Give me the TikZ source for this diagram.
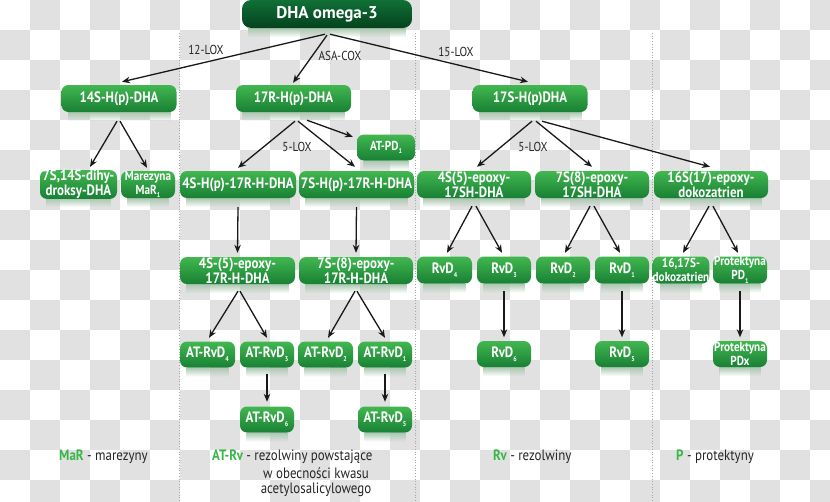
\documentclass[tikz,border=0pt]{standalone}
\usepackage{fontspec}
\setmainfont{PT Sans}
\newfontfamily\narrowfont{PT Sans}[FakeStretch=0.86]
\newfontfamily\boxfont{PT Sans}[FakeStretch=0.86]
\usetikzlibrary{arrows.meta,calc,fadings}
\definecolor{gtop}{RGB}{66,183,80}
\definecolor{gbot}{RGB}{24,128,52}
\definecolor{dtop}{RGB}{16,112,54}
\definecolor{dbot}{RGB}{5,66,30}
\definecolor{refl}{RGB}{170,200,176}
\definecolor{chk}{RGB}{225,225,225}
\definecolor{lgreen}{RGB}{57,181,74}
\newcommand\lowsub[1]{\raisebox{-0.5ex}{\fontsize{7}{7}\selectfont #1}}
\newcommand\gbox[6][]{%
  \fill[refl,path fading=south] ($(#3)+(-#4/2+6,#5/2)$) rectangle ($(#3)+(#4/2-6,#5/2+9)$);
  \node[gnode,minimum width=#4pt,minimum height=#5pt,#1] (#2) at (#3) {#6};}
\tikzset{
  gnode/.style={rectangle,rounded corners=7pt,draw=none,top color=gtop,bottom color=gbot,
    text=white,align=center,inner sep=0pt,font=\fontsize{15}{15}\selectfont\boxfont\bfseries},
  small/.style={font=\fontsize{13}{14}\selectfont\boxfont\bfseries},
  dark/.style={top color=dtop,bottom color=dbot,rounded corners=9pt,font=\fontsize{17}{18}\selectfont\rmfamily\bfseries},
  arr/.style={-{Stealth[length=8pt,width=6.5pt]},line width=1.3pt,black!90},
  lbl/.style={font=\fontsize{13}{13}\selectfont\narrowfont,text=black!85,inner sep=0pt},
  legend/.style={font=\fontsize{15}{16}\selectfont\narrowfont,text=black!85,inner sep=0pt},
  sep/.style={gray!70,dotted,line width=0.7pt},
}
\begin{document}
\begin{tikzpicture}[x=1pt,y=-1pt]
\useasboundingbox (0,0) rectangle (830,501);
% checkerboard background
\begin{scope}
\clip (0,0) rectangle (830,501);
\fill[white] (0,0) rectangle (830,501);
\foreach \j in {0,2,...,16} \foreach \i in {1,3,...,27} {\fill[chk] (\i*30,\j*30) rectangle ++(30,30);}
\foreach \j in {1,3,...,15} \foreach \i in {0,2,...,26} {\fill[chk] (\i*30,\j*30) rectangle ++(30,30);}
\end{scope}
% separators
\draw[sep] (179.5,33) -- (179.5,501);
\draw[sep] (415,33) -- (415,501);
\draw[sep] (652,33) -- (652,501);
% boxes
\gbox[dark]{dha}{327,14}{170}{28}{DHA omega-3}
\gbox{a14S}{119,98.5}{115}{27}{14S-H(p)-DHA}
\gbox{a17R}{293.5,98.5}{115}{27}{17R-H(p)-DHA}
\gbox{a17S}{530,98.5}{115}{27}{17S-H(p)DHA}
\gbox{b1}{78.5,184.5}{77}{27}{7S,14S-dihy-\\droksy-DHA}
\gbox[small]{b2}{148,184.5}{54}{27}{Marezyna\\MaR\lowsub{1}}
\gbox{b3}{238,184.5}{116}{27}{4S-H(p)-17R-H-DHA}
\gbox{b4}{356.5,184.5}{115}{27}{7S-H(p)-17R-H-DHA}
\gbox{b5}{474,184.5}{114}{27}{4S(5)-epoxy-\\17SH-DHA}
\gbox{b6}{592,184.5}{114}{27}{7S(8)-epoxy-\\17SH-DHA}
\gbox{b7}{711,184.5}{114}{27}{16S(17)-epoxy-\\dokozatrien}
\gbox[small]{atpd}{386,147.5}{58}{26}{AT-PD\lowsub{1}}
\gbox{c1}{237.5,270.5}{115}{27}{4S-(5)-epoxy-\\17R-H-DHA}
\gbox{c2}{356,270.5}{114}{27}{7S-(8)-epoxy-\\17R-H-DHA}
\gbox{rv4}{444.5,270}{55}{27}{RvD\lowsub{4}}
\gbox{rv3}{504,270}{54}{27}{RvD\lowsub{3}}
\gbox{rv2}{563,270}{54}{27}{RvD\lowsub{2}}
\gbox{rv1}{622,270}{54}{27}{RvD\lowsub{1}}
\gbox[small]{dk}{681,270}{54}{27}{16,17S-\\dokozatrien}
\gbox[small]{pd1}{740,270}{54}{27}{Protektyna\\PD\lowsub{1}}
\gbox{d1}{207.5,354.5}{55}{26}{AT-RvD\lowsub{4}}
\gbox{d2}{267,354.5}{54}{26}{AT-RvD\lowsub{3}}
\gbox{d3}{325.5,354.5}{55}{26}{AT-RvD\lowsub{2}}
\gbox{d4}{385,354.5}{54}{26}{AT-RvD\lowsub{1}}
\gbox{rv6}{504,354}{54}{26}{RvD\lowsub{6}}
\gbox{rv5}{622,354}{54}{26}{RvD\lowsub{5}}
\gbox[small]{pdx}{740,354}{54}{26}{Protektyna\\PDx}
\gbox{e1}{267,419.5}{54}{26}{AT-RvD\lowsub{6}}
\gbox{e2}{385,419.5}{54}{26}{AT-RvD\lowsub{5}}
% arrows
\draw[arr] ([xshift=-2pt,yshift=-6pt]dha.south) -- ([xshift=3pt,yshift=3pt]a14S.north);
\draw[arr] ([yshift=-7pt]dha.south) -- ([xshift=-0.5pt,yshift=2pt]a17R.north);
\draw[arr] ([xshift=3pt,yshift=-6pt]dha.south) -- ([xshift=-2pt,yshift=3pt]a17S.north);
\draw[arr] ([xshift=-2pt,yshift=-9pt]a14S.south) -- ([xshift=11.5pt,yshift=3pt]b1.north);
\draw[arr] ([xshift=1pt,yshift=-9pt]a14S.south) -- ([xshift=-1pt,yshift=3pt]b2.north);
\draw[arr] ([xshift=1.5pt,yshift=-9pt]a17R.south) -- ([yshift=3pt]b3.north);
\draw[arr] ([xshift=4.5pt,yshift=-9pt]a17R.south) -- ([xshift=-1.5pt,yshift=4pt]b4.north);
\draw[arr] ([xshift=13.5pt,yshift=-8pt]a17R.south) -- ([xshift=-4pt,yshift=-2.5pt]atpd.north west);
\draw[arr] ([xshift=2pt,yshift=-9pt]a17S.south) -- ([xshift=3pt,yshift=4pt]b5.north);
\draw[arr] ([xshift=6pt,yshift=-9pt]a17S.south) -- ([yshift=4pt]b6.north);
\draw[arr] ([xshift=12pt,yshift=-9pt]a17S.south) -- ([xshift=-1pt,yshift=4pt]b7.north);
\draw[arr] ([yshift=-9pt]b3.south) -- ([yshift=4pt]c1.north);
\draw[arr] ([yshift=-9pt]b4.south) -- ([yshift=4pt]c2.north);
\draw[arr] ([xshift=0.5pt,yshift=-7pt]c1.south) -- ([xshift=1.5pt,yshift=3.5pt]d1.north);
\draw[arr] ([xshift=2.5pt,yshift=-7pt]c1.south) -- ([yshift=3.5pt]d2.north);
\draw[arr] ([xshift=-1pt,yshift=-7pt]c2.south) -- ([xshift=2.5pt,yshift=3.5pt]d3.north);
\draw[arr] ([xshift=1pt,yshift=-7pt]c2.south) -- ([yshift=3.5pt]d4.north);
\draw[arr] ([yshift=-6pt]d2.south) -- ([yshift=4.5pt]e1.north);
\draw[arr] ([yshift=-6pt]d4.south) -- ([yshift=4.5pt]e2.north);
\draw[arr] ([xshift=-2pt,yshift=-8pt]b5.south) -- ([xshift=2.5pt,yshift=3.5pt]rv4.north);
\draw[arr] ([xshift=2pt,yshift=-8pt]b5.south) -- ([xshift=-2pt,yshift=3.5pt]rv3.north);
\draw[arr] ([xshift=-2pt,yshift=-8pt]b6.south) -- ([xshift=2pt,yshift=3.5pt]rv2.north);
\draw[arr] ([xshift=2pt,yshift=-8pt]b6.south) -- ([xshift=-2pt,yshift=3.5pt]rv1.north);
\draw[arr] ([xshift=-2pt,yshift=-8pt]b7.south) -- ([xshift=2pt,yshift=3.5pt]dk.north);
\draw[arr] ([xshift=2pt,yshift=-8pt]b7.south) -- ([xshift=-2pt,yshift=3.5pt]pd1.north);
\draw[arr] ([yshift=-7.5pt]rv3.south) -- ([yshift=3.5pt]rv6.north);
\draw[arr] ([yshift=-7.5pt]rv1.south) -- ([yshift=3.5pt]rv5.north);
\draw[arr] ([yshift=-7.5pt]pd1.south) -- ([yshift=3.5pt]pdx.north);
% arrow labels
\node[lbl] (l12) at (206,50) {12-LOX};
\node[lbl] (lasa) at (340,56) {ASA-COX};
\node[lbl] (l15) at (456,52) {15-LOX};
\node[lbl] (l5a) at (297,147) {5-LOX};
\node[lbl] (l5b) at (533,147) {5-LOX};
% legend
\node[legend,anchor=west] (lg1) at (59,457) {\textcolor{lgreen}{\bfseries MaR} - marezyny};
\node[legend,anchor=west] (lg2) at (212,457) {\textcolor{lgreen}{\bfseries AT-Rv} - rezolwiny powstające};
\node[legend] (lg2b) at (316,473) {w obecności kwasu};
\node[legend] (lg2c) at (316,490) {acetylosalicylowego};
\node[legend,anchor=west] (lg3) at (493,457) {\textcolor{lgreen}{\bfseries Rv} - rezolwiny};
\node[legend,anchor=west] (lg4) at (676,457) {\textcolor{lgreen}{\bfseries P} - protektyny};
\end{tikzpicture}
\end{document}
